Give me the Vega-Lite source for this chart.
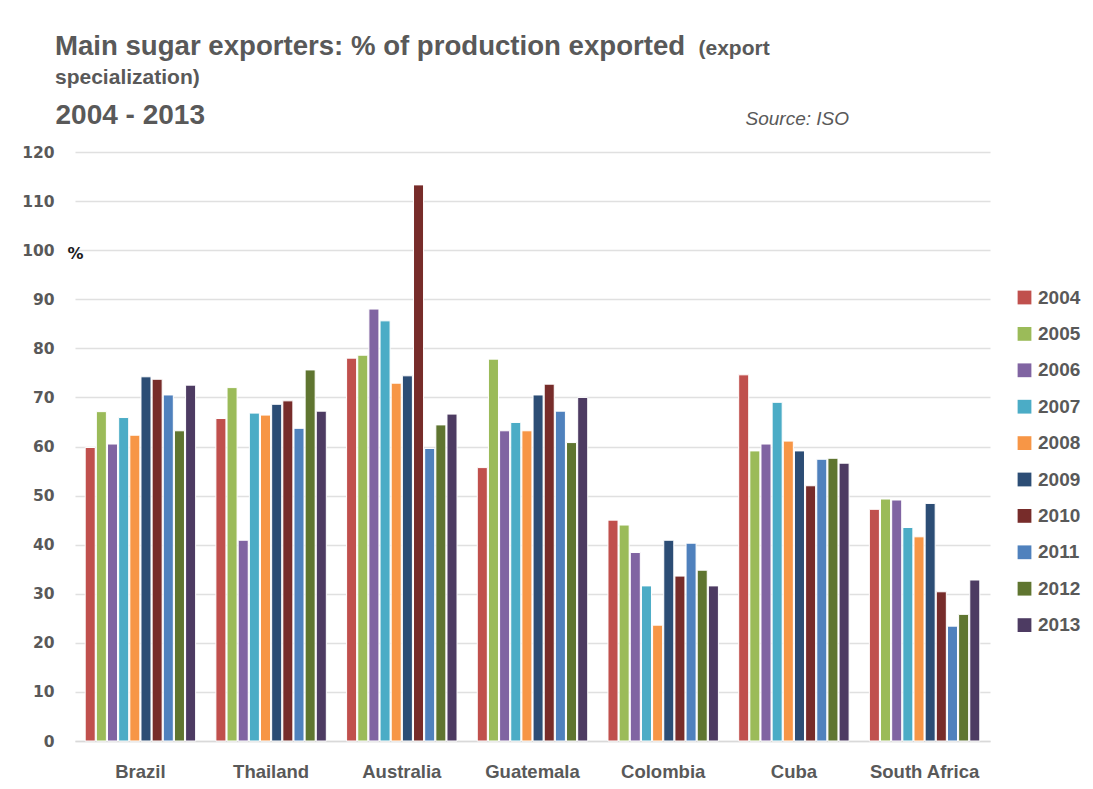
{
  "$schema": "https://vega.github.io/schema/vega-lite/v6.json",
  "width": 915,
  "height": 589,
  "autosize": {"type": "none"},
  "padding": {"left": 75, "top": 152, "right": 103, "bottom": 48},
  "background": "white",
  "data": {
    "values": [
      {"country": "Brazil", "year": "2004", "value": 59.8},
      {"country": "Brazil", "year": "2005", "value": 67.1},
      {"country": "Brazil", "year": "2006", "value": 60.5},
      {"country": "Brazil", "year": "2007", "value": 65.9},
      {"country": "Brazil", "year": "2008", "value": 62.3},
      {"country": "Brazil", "year": "2009", "value": 74.2},
      {"country": "Brazil", "year": "2010", "value": 73.7},
      {"country": "Brazil", "year": "2011", "value": 70.5},
      {"country": "Brazil", "year": "2012", "value": 63.2},
      {"country": "Brazil", "year": "2013", "value": 72.5},
      {"country": "Thailand", "year": "2004", "value": 65.7},
      {"country": "Thailand", "year": "2005", "value": 72.0},
      {"country": "Thailand", "year": "2006", "value": 40.9},
      {"country": "Thailand", "year": "2007", "value": 66.8},
      {"country": "Thailand", "year": "2008", "value": 66.4},
      {"country": "Thailand", "year": "2009", "value": 68.6},
      {"country": "Thailand", "year": "2010", "value": 69.3},
      {"country": "Thailand", "year": "2011", "value": 63.7},
      {"country": "Thailand", "year": "2012", "value": 75.6},
      {"country": "Thailand", "year": "2013", "value": 67.2},
      {"country": "Australia", "year": "2004", "value": 78.0},
      {"country": "Australia", "year": "2005", "value": 78.6},
      {"country": "Australia", "year": "2006", "value": 88.0},
      {"country": "Australia", "year": "2007", "value": 85.6},
      {"country": "Australia", "year": "2008", "value": 72.9},
      {"country": "Australia", "year": "2009", "value": 74.4},
      {"country": "Australia", "year": "2010", "value": 113.3},
      {"country": "Australia", "year": "2011", "value": 59.6},
      {"country": "Australia", "year": "2012", "value": 64.4},
      {"country": "Australia", "year": "2013", "value": 66.6},
      {"country": "Guatemala", "year": "2004", "value": 55.7},
      {"country": "Guatemala", "year": "2005", "value": 77.8},
      {"country": "Guatemala", "year": "2006", "value": 63.2},
      {"country": "Guatemala", "year": "2007", "value": 64.9},
      {"country": "Guatemala", "year": "2008", "value": 63.2},
      {"country": "Guatemala", "year": "2009", "value": 70.5},
      {"country": "Guatemala", "year": "2010", "value": 72.7},
      {"country": "Guatemala", "year": "2011", "value": 67.2},
      {"country": "Guatemala", "year": "2012", "value": 60.8},
      {"country": "Guatemala", "year": "2013", "value": 70.0},
      {"country": "Colombia", "year": "2004", "value": 45.0},
      {"country": "Colombia", "year": "2005", "value": 44.0},
      {"country": "Colombia", "year": "2006", "value": 38.4},
      {"country": "Colombia", "year": "2007", "value": 31.6},
      {"country": "Colombia", "year": "2008", "value": 23.6},
      {"country": "Colombia", "year": "2009", "value": 40.9},
      {"country": "Colombia", "year": "2010", "value": 33.6},
      {"country": "Colombia", "year": "2011", "value": 40.3},
      {"country": "Colombia", "year": "2012", "value": 34.8},
      {"country": "Colombia", "year": "2013", "value": 31.6},
      {"country": "Cuba", "year": "2004", "value": 74.6},
      {"country": "Cuba", "year": "2005", "value": 59.1},
      {"country": "Cuba", "year": "2006", "value": 60.5},
      {"country": "Cuba", "year": "2007", "value": 69.0},
      {"country": "Cuba", "year": "2008", "value": 61.1},
      {"country": "Cuba", "year": "2009", "value": 59.1},
      {"country": "Cuba", "year": "2010", "value": 52.0},
      {"country": "Cuba", "year": "2011", "value": 57.4},
      {"country": "Cuba", "year": "2012", "value": 57.6},
      {"country": "Cuba", "year": "2013", "value": 56.6},
      {"country": "South Africa", "year": "2004", "value": 47.2},
      {"country": "South Africa", "year": "2005", "value": 49.3},
      {"country": "South Africa", "year": "2006", "value": 49.1},
      {"country": "South Africa", "year": "2007", "value": 43.5},
      {"country": "South Africa", "year": "2008", "value": 41.6},
      {"country": "South Africa", "year": "2009", "value": 48.4},
      {"country": "South Africa", "year": "2010", "value": 30.4},
      {"country": "South Africa", "year": "2011", "value": 23.4},
      {"country": "South Africa", "year": "2012", "value": 25.8},
      {"country": "South Africa", "year": "2013", "value": 32.8}
    ]
  },
  "layer": [
    {
      "mark": {"type": "bar", "stroke": "white", "strokeWidth": 1},
      "encoding": {
        "x": {
          "field": "country",
          "type": "nominal",
          "sort": ["Brazil", "Thailand", "Australia", "Guatemala", "Colombia", "Cuba", "South Africa"],
          "scale": {"paddingInner": 0.155, "paddingOuter": 0.078},
          "axis": {
            "orient": "bottom",
            "labelAngle": 0,
            "labelFont": "Liberation Sans",
            "labelFontWeight": "bold",
            "labelFontSize": 18.5,
            "labelColor": "#595959",
            "labelPadding": 21,
            "ticks": false,
            "domain": true,
            "domainColor": "#d9d9d9",
            "domainWidth": 1.5,
            "grid": false,
            "title": "2004 - 2013",
            "titleX": -20,
            "titleY": -618,
            "titleAlign": "left",
            "titleBaseline": "alphabetic",
            "titleFont": "Liberation Sans",
            "titleFontSize": 28,
            "titleFontWeight": "bold",
            "titleColor": "#595959"
          }
        },
        "xOffset": {
          "field": "year",
          "type": "nominal",
          "scale": {"paddingInner": 0.1, "paddingOuter": 0}
        },
        "y": {
          "field": "value",
          "type": "quantitative",
          "scale": {"domain": [0, 120], "nice": false},
          "axis": {
            "orient": "left",
            "values": [0, 10, 20, 30, 40, 50, 60, 70, 80, 90, 100, 110, 120],
            "labelFont": "DejaVu Sans",
            "labelFontWeight": "bold",
            "labelFontSize": 15.5,
            "labelColor": "#595959",
            "labelPadding": 21,
            "ticks": false,
            "domain": false,
            "grid": true,
            "gridColor": "#e0e0e0",
            "gridWidth": 1.5,
            "title": "%",
            "titleAngle": 0,
            "titleX": -8,
            "titleY": 106,
            "titleAlign": "left",
            "titleBaseline": "alphabetic",
            "titleFont": "DejaVu Sans",
            "titleFontSize": 16,
            "titleFontWeight": "bold",
            "titleColor": "#1a1a1a"
          }
        },
        "color": {
          "field": "year",
          "type": "nominal",
          "scale": {
            "domain": ["2004", "2005", "2006", "2007", "2008", "2009", "2010", "2011", "2012", "2013"],
            "range": ["#C0504D", "#9BBB59", "#8064A2", "#4BACC6", "#F79646", "#2C4D75", "#772C2A", "#4F81BD", "#5F7530", "#4D3B62"]
          },
          "legend": {
            "orient": "none",
            "legendX": 940,
            "legendY": 136,
            "title": null,
            "padding": 0,
            "symbolType": "square",
            "symbolSize": 190,
            "symbolStrokeWidth": 0,
            "labelFont": "Liberation Sans",
            "labelFontWeight": "bold",
            "labelFontSize": 19,
            "labelColor": "#595959",
            "labelOffset": 4,
            "rowPadding": 16.4
          }
        }
      }
    },
    {
      "mark": {"type": "bar", "fillOpacity": 0, "strokeOpacity": 0, "strokeWidth": 0},
      "encoding": {
        "x": {
          "field": "country",
          "type": "nominal",
          "sort": ["Brazil", "Thailand", "Australia", "Guatemala", "Colombia", "Cuba", "South Africa"],
          "axis": {
            "orient": "top",
            "labels": false,
            "ticks": false,
            "domain": false,
            "grid": false,
            "title": "Source: ISO",
            "titleX": 670,
            "titleY": -28,
            "titleAlign": "left",
            "titleBaseline": "alphabetic",
            "titleFont": "Liberation Sans",
            "titleFontSize": 19,
            "titleFontStyle": "italic",
            "titleFontWeight": "normal",
            "titleColor": "#595959"
          }
        },
        "y": {
          "field": "value",
          "type": "quantitative",
          "axis": {
            "orient": "right",
            "labels": false,
            "ticks": false,
            "domain": false,
            "grid": false,
            "title": "(export",
            "titleAngle": 0,
            "titleX": -292,
            "titleY": -98,
            "titleAlign": "left",
            "titleBaseline": "alphabetic",
            "titleFont": "Liberation Sans",
            "titleFontSize": 21,
            "titleFontWeight": "bold",
            "titleColor": "#595959"
          }
        },
        "strokeDash": {
          "datum": "t",
          "type": "nominal",
          "legend": {
            "orient": "none",
            "legendX": -20,
            "legendY": -97,
            "title": "Main sugar exporters: % of production exported",
            "titleFont": "Liberation Sans",
            "titleFontSize": 27.6,
            "titleFontWeight": "bold",
            "titleColor": "#595959",
            "titleBaseline": "alphabetic",
            "titleLimit": 1000,
            "titlePadding": 0,
            "padding": 0,
            "labelOpacity": 0,
            "labelFontSize": 8,
            "labelOffset": 860,
            "symbolOpacity": 0,
            "symbolStrokeWidth": 0,
            "symbolSize": 1
          }
        },
        "size": {
          "datum": 1,
          "type": "quantitative",
          "legend": {
            "orient": "none",
            "legendX": -20,
            "legendY": -68,
            "title": "specialization)",
            "titleFont": "Liberation Sans",
            "titleFontSize": 21,
            "titleFontWeight": "bold",
            "titleColor": "#595959",
            "titleBaseline": "alphabetic",
            "titleLimit": 1000,
            "titlePadding": 0,
            "padding": 0,
            "labelOpacity": 0,
            "labelFontSize": 8,
            "labelOffset": 860,
            "symbolOpacity": 0,
            "symbolStrokeWidth": 0
          }
        }
      }
    }
  ],
  "resolve": {"axis": {"x": "independent", "y": "independent"}},
  "config": {"view": {"stroke": null}}
}
